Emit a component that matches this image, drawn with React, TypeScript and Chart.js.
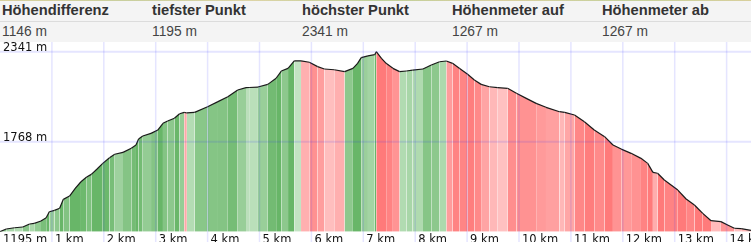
import React, { useEffect, useRef } from "react";
import { Chart, registerables } from "chart.js";

Chart.register(...registerables);

// ---- data ----
const headerLabels = ["Höhendifferenz", "tiefster Punkt", "höchster Punkt", "Höhenmeter auf", "Höhenmeter ab"];
const headerValues = ["1146 m", "1195 m", "2341 m", "1267 m", "1267 m"];

const distanceKm = [
  0.0, 0.12, 0.28, 0.44, 0.57, 0.66, 0.79, 0.89, 0.95, 1.05,
  1.15, 1.22, 1.34, 1.45, 1.56, 1.67, 1.76, 1.87, 1.98, 2.11,
  2.21, 2.37, 2.53, 2.62, 2.67, 2.75, 2.91, 3.04, 3.14, 3.23,
  3.36, 3.46, 3.55, 3.6, 3.75, 4.0, 4.2, 4.39, 4.58, 4.74,
  4.8, 4.97, 5.16, 5.32, 5.42, 5.55, 5.67, 5.8, 5.96, 6.12,
  6.25, 6.44, 6.64, 6.8, 6.89, 6.96, 7.09, 7.22, 7.25, 7.35,
  7.44, 7.57, 7.7, 7.83, 7.95, 8.15, 8.31, 8.47, 8.6, 8.72,
  8.85, 9.01, 9.14, 9.27, 9.43, 9.59, 9.78, 9.95, 10.14, 10.33,
  10.52, 10.78, 10.88, 11.07, 11.26, 11.45, 11.65, 11.81, 11.97, 12.16,
  12.35, 12.48, 12.58, 12.67, 12.8, 12.93, 13.06, 13.22, 13.38, 13.54,
  13.7, 13.89, 14.02, 14.15, 14.28, 14.47,
];
const elevationM = [
  1195, 1212, 1220, 1225, 1244, 1248, 1263, 1284, 1322, 1331,
  1344, 1401, 1422, 1471, 1513, 1543, 1560, 1594, 1630, 1666,
  1688, 1700, 1726, 1747, 1785, 1804, 1821, 1842, 1885, 1900,
  1917, 1946, 1955, 1951, 1955, 1991, 2023, 2054, 2097, 2112,
  2113, 2116, 2133, 2172, 2218, 2235, 2282, 2283, 2274, 2246,
  2231, 2226, 2214, 2235, 2267, 2303, 2314, 2322, 2341, 2299,
  2267, 2235, 2214, 2218, 2224, 2231, 2256, 2277, 2282, 2267,
  2235, 2197, 2161, 2133, 2118, 2112, 2108, 2076, 2044, 2012,
  1987, 1959, 1955, 1938, 1895, 1842, 1800, 1747, 1721, 1694,
  1662, 1630, 1573, 1567, 1524, 1492, 1460, 1403, 1365, 1312,
  1265, 1259, 1238, 1217, 1214, 1204,
];
const xTicksKm = [1, 2, 3, 4, 5, 6, 7, 8, 9, 10, 11, 12, 13, 14];
const yGridM = [2341, 1768];
const yLabelM = [2341, 1768, 1195];

const Y_MIN = 1195;
const Y_MAX = 2402.8;
const X_MAX = 14.47;

function lerp(a: number, b: number, t: number) {
  return Math.round(a + (b - a) * t);
}

function slopeColor(ctx: any) {
  const p0 = ctx.p0.parsed;
  const p1 = ctx.p1.parsed;
  const dx = (p1.x - p0.x) * 1000;
  const g = dx > 0 ? (p1.y - p0.y) / dx : 0;
  const t = Math.min(Math.sqrt(Math.abs(g) / 0.3), 1);
  if (g >= 0) {
    return `rgb(${lerp(212, 104, t)},${lerp(236, 182, t)},${lerp(212, 104, t)})`;
  }
  return `rgb(255,${lerp(218, 122, t)},${lerp(218, 122, t)})`;
}

const overlayPlugin = {
  id: "overlay",
  afterDatasetsDraw(chart: any) {
    const { ctx, scales } = chart;
    const x = scales.x;
    const y = scales.y;
    ctx.save();
    ctx.strokeStyle = "rgba(40,40,255,0.12)";
    ctx.lineWidth = 1.5;
    for (const k of xTicksKm) {
      const px = x.getPixelForValue(k);
      ctx.beginPath();
      ctx.moveTo(px, 0);
      ctx.lineTo(px, chart.height);
      ctx.stroke();
    }
    ctx.lineWidth = 2;
    for (const v of yGridM) {
      const py = y.getPixelForValue(v);
      ctx.beginPath();
      ctx.moveTo(0, py);
      ctx.lineTo(chart.width, py);
      ctx.stroke();
    }
    ctx.fillStyle = "#111";
    ctx.font = '11.5px "DejaVu Sans"';
    ctx.textBaseline = "alphabetic";
    for (const v of yLabelM) {
      const py = v === Y_MIN ? 201 : y.getPixelForValue(v) - 1.2;
      ctx.fillText(`${v} m`, 3, py);
    }
    for (const k of xTicksKm) {
      const px = x.getPixelForValue(k);
      ctx.fillText(`${k} km`, px + 3, 201);
    }
    ctx.restore();
  },
};

function ProfileChart() {
  const ref = useRef<HTMLCanvasElement | null>(null);
  useEffect(() => {
    if (!ref.current) return;
    const points = distanceKm.map((d, i) => ({ x: d, y: elevationM[i] }));
    const chart = new Chart(ref.current, {
      type: "line",
      data: {
        datasets: [
          {
            data: points,
            borderColor: "#1a1a1a",
            borderWidth: 1.2,
            pointRadius: 0,
            tension: 0,
            fill: "start",
            backgroundColor: "rgb(150,205,150)",
            segment: {
              backgroundColor: slopeColor,
            },
          } as any,
        ],
      },
      options: {
        responsive: false,
        devicePixelRatio: 1,
        animation: false,
        events: [],
        layout: { padding: { left: 0, right: 0, top: 0, bottom: 10.3 } },
        scales: {
          x: { type: "linear", min: 0, max: X_MAX, display: false },
          y: { type: "linear", min: Y_MIN, max: Y_MAX, display: false },
        },
        plugins: {
          legend: { display: false },
          tooltip: { enabled: false },
        },
      },
      plugins: [overlayPlugin],
    });
    return () => chart.destroy();
  }, []);
  return <canvas ref={ref} width={751} height={200} style={{ display: "block", width: 751, height: 200 }} />;
}

export default function App() {
  const cell = (i: number): React.CSSProperties => ({
    position: "absolute",
    left: 2 + i * 150,
    top: 0,
    whiteSpace: "nowrap",
  });
  return (
    <div style={{ width: 751, height: 242, overflow: "hidden", background: "#fff" }}>
      <style>{"body{margin:0;}"}</style>
      <div
        style={{
          position: "relative",
          width: 751,
          height: 42,
          background: "#f4f4f4",
          fontFamily: '"Liberation Sans", Arial, sans-serif',
        }}
      >
        <div
          style={{
            position: "absolute",
            left: 0,
            top: 0,
            width: 751,
            height: 1,
            background: "linear-gradient(90deg,#d8cf9c,#c9cf9e,#ddd4a6,#bfcf98,#d9d0a0,#c6d19c,#d8cf9c)",
          }}
        />
        <div style={{ position: "absolute", left: 0, top: 21, width: 751, height: 1, background: "#dcdcdc" }} />
        <div style={{ position: "absolute", left: 0, top: 0, width: 751, height: 21 }}>
          {headerLabels.map((h, i) => (
            <div key={h} style={{ ...cell(i), lineHeight: "21px", fontSize: 14.7, fontWeight: "bold", color: "#333" }}>
              {h}
            </div>
          ))}
        </div>
        <div style={{ position: "absolute", left: 0, top: 22, width: 751, height: 20 }}>
          {headerValues.map((v, i) => (
            <div key={i} style={{ ...cell(i), lineHeight: "20px", fontSize: 13.8, color: "#444" }}>
              {v}
            </div>
          ))}
        </div>
      </div>
      <ProfileChart />
    </div>
  );
}
